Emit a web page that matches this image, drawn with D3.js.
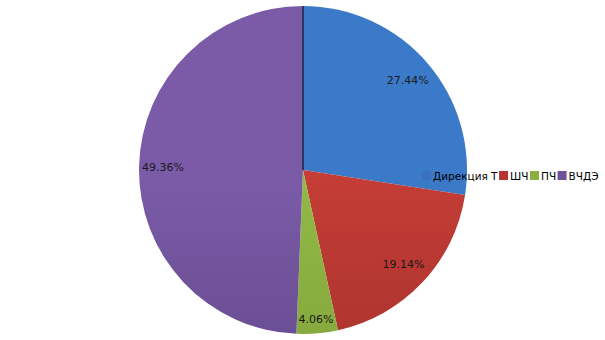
<!DOCTYPE html>
<html>
<head>
<meta charset="utf-8">
<script src="https://cdn.jsdelivr.net/npm/d3@7"></script>
<style>
  body { margin: 0; background: #fff; }
  svg { display: block; font-family: "DejaVu Sans", sans-serif; }
</style>
</head>
<body>
<svg id="chart" width="605" height="340"></svg>
<script>
const categories = ["Дирекция Т", "ШЧ", "ПЧ", "ВЧДЭ"];
const values = [27.44, 19.14, 4.06, 49.36];
const labels = ["27.44%", "19.14%", "4.06%", "49.36%"];

const topColors = ["#3b7ac8", "#c43d36", "#92ba47", "#7b5ba7"];
const bottomColors = ["#2b5896", "#9a2b27", "#7a9934", "#5a4183"];
const legendColors = ["#3a72bd", "#b83531", "#8ab040", "#71519c"];

const svg = d3.select("#chart");
const cx = 303, cy = 170, r = 164;

const defs = svg.append("defs");
categories.forEach((c, i) => {
  const grad = defs.append("linearGradient")
    .attr("id", "g" + i)
    .attr("gradientUnits", "userSpaceOnUse")
    .attr("x1", 0).attr("y1", cy - r)
    .attr("x2", 0).attr("y2", cy + r);
  grad.append("stop").attr("offset", "0%").attr("stop-color", topColors[i]);
  grad.append("stop").attr("offset", "100%").attr("stop-color", bottomColors[i]);
});

const pie = d3.pie().sort(null).value((d) => d);
const arcs = pie(values);
const arc = d3.arc().innerRadius(0).outerRadius(r);

const g = svg.append("g").attr("transform", `translate(${cx},${cy})`);

g.selectAll("path")
  .data(arcs)
  .join("path")
  .attr("d", arc)
  .attr("fill", (d, i) => `url(#g${i})`);

// boundary line at 12 o'clock
g.append("line")
  .attr("x1", 0).attr("y1", -r)
  .attr("x2", 0).attr("y2", 0)
  .attr("stroke", "#000")
  .attr("stroke-width", 1);

const labelRadius = [138, 138, 150, 140];
g.selectAll("text.lbl")
  .data(arcs)
  .join("text")
  .attr("class", "lbl")
  .attr("transform", (d, i) => {
    const lr = labelRadius[i];
    const a = d3.arc().innerRadius(lr).outerRadius(lr);
    const [x, y] = a.centroid(d);
    return `translate(${x},${y})`;
  })
  .attr("text-anchor", "middle")
  .attr("dy", "0.35em")
  .attr("font-size", 11)
  .attr("fill", "#1a1a1a")
  .text((d, i) => labels[i]);

// legend
const legend = svg.append("g").attr("transform", "translate(422,176)");
let lx = 0;
categories.forEach((c, i) => {
  const item = legend.append("g").attr("transform", `translate(${lx},0)`);
  item.append("rect")
    .attr("x", 0).attr("y", -5)
    .attr("width", 9).attr("height", 9)
    .attr("fill", legendColors[i]);
  const t = item.append("text")
    .attr("x", 11).attr("y", 0)
    .attr("dy", "0.35em")
    .attr("font-size", 10.5)
    .attr("fill", "#000")
    .text(c);
  lx += 11 + t.node().getComputedTextLength() + 1.5;
});
</script>
</body>
</html>
